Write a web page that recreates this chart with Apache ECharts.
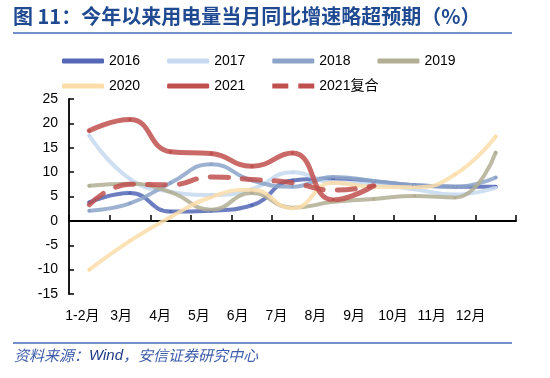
<!DOCTYPE html>
<html><head><meta charset="utf-8">
<script src="https://cdn.jsdelivr.net/npm/echarts@6/dist/echarts.min.js"></script>
<style>html,body{margin:0;padding:0;background:#fff}#c{width:550px;height:378px}</style>
</head><body><div id="c"></div>
<script>
var categories = ['1-2月','3月','4月','5月','6月','7月','8月','9月','10月','11月','12月'];
var s2016 = [3.8, 5.7, 1.9, 2.1, 3.2, 8.3, 8.7, 8.1, 7.3, 7.0, 7.0];
var s2017 = [17.5, 8.6, 6.0, 5.3, 6.5, 10.0, 7.8, 7.5, 6.5, 5.4, 6.8];
var s2018 = [2.1, 3.6, 7.8, 11.6, 8.3, 7.0, 9.0, 8.2, 7.3, 7.0, 8.9];
var s2019 = [7.2, 7.6, 5.9, 2.3, 5.7, 2.7, 3.9, 4.5, 5.1, 4.8, 14.0];
var s2020 = [-10.0, -4.1, 0.8, 4.9, 6.4, 2.6, 7.8, 7.0, 6.9, 9.5, 17.3];
var s2021 = [18.5, 20.8, 14.2, 13.8, 11.2, 13.9, 4.3, 7.2];
var s2021c = [3.3, 7.5, 7.4, 9.0, 8.5, 7.8, 6.3, 7.2];
var yTicks = {min: -15, max: 25, interval: 5};

var FONT = '"Liberation Sans", Arial, "Noto Sans CJK SC", sans-serif';
var chart = echarts.init(document.getElementById('c'));

function mk(name, data, color, width, dashed) {
  return {
    name: name, type: 'line', data: data, smooth: 0.5,
    xAxisIndex: 0, yAxisIndex: 0,
    symbol: 'circle', symbolSize: dashed ? 0 : 3.5, showSymbol: !dashed,
    itemStyle: {color: color, opacity: 1},
    lineStyle: {color: color, width: width, opacity: 0.85,
      type: dashed ? [18, 14] : 'solid', cap: 'round', join: 'round'},
    emphasis: {disabled: true}, z: dashed ? 4 : 3
  };
}
var C = {'2016':'#5467B5','2017':'#C6D9F0','2018':'#8CA4C8','2019':'#B2AE93','2020':'#FCDDAA','2021':'#C0504D'};

var legText = {fontSize: 14, color: '#000', fontFamily: FONT};
chart.setOption({
  animation: false,
  backgroundColor: '#fff',
  legend: [{
    left: 57, top: 49, itemWidth: 42, itemHeight: 5, itemGap: 27,
    textStyle: legText,
    data: [{name:'2016',icon:'roundRect'},{name:'2017',icon:'roundRect'},{name:'2018',icon:'roundRect'},{name:'2019',icon:'roundRect'}]
  },{
    left: 57, top: 74, itemWidth: 42, itemHeight: 5, itemGap: 27,
    textStyle: legText,
    data: [{name:'2020',icon:'roundRect'},{name:'2021',icon:'roundRect'},
      {name:'2021复合',icon:'path://M0,0h16v5h-16z M26,0h16v5h-16z'}]
  }],
  grid: [{left: 69, right: 34, top: 99, bottom: 84},
         {left: 63, right: 60, top: 99, bottom: 84}],
  xAxis: [{
    type: 'category', data: categories, gridIndex: 0, boundaryGap: true,
    axisLine: {onZero: true, lineStyle: {color: '#000', width: 1.8}},
    axisTick: {show: true, inside: true, length: 6, lineStyle: {color: '#000', width: 1.5}},
    axisLabel: {show: false}, splitLine: {show: false}
  },{
    type: 'category', data: categories, gridIndex: 1, position: 'bottom',
    axisLine: {show: false}, axisTick: {show: false}, splitLine: {show: false},
    axisLabel: {show: true, margin: 15, fontSize: 14, color: '#000', fontFamily: FONT, interval: 0}
  }],
  yAxis: [{
    type: 'value', gridIndex: 0, min: yTicks.min, max: yTicks.max, interval: yTicks.interval,
    axisLine: {show: true, lineStyle: {color: '#000', width: 1.8}},
    axisTick: {show: true, inside: true, length: 5, lineStyle: {color: '#000', width: 1.5}},
    axisLabel: {margin: 11, fontSize: 14, color: '#000', fontFamily: FONT},
    splitLine: {show: false}
  },{
    type: 'value', gridIndex: 1, min: yTicks.min, max: yTicks.max, show: false
  }],
  series: [
    mk('2016', s2016, C['2016'], 4),
    mk('2017', s2017, C['2017'], 4),
    mk('2018', s2018, C['2018'], 4),
    mk('2019', s2019, C['2019'], 4),
    mk('2020', s2020, C['2020'], 4),
    mk('2021', s2021, C['2021'], 5),
    mk('2021复合', s2021c, C['2021'], 5, true)
  ],
  graphic: [
    {type: 'text', left: 13, top: 6, style: {text: '图 11：今年以来用电量当月同比增速略超预期（%）',
      font: 'bold 20px "Noto Sans CJK SC", "Liberation Sans", sans-serif', fill: '#1F4A92'}},
    {type: 'rect', shape: {x: 13, y: 32, width: 499, height: 2}, style: {fill: '#7390C8'}},
    {type: 'rect', shape: {x: 13, y: 342, width: 499, height: 2}, style: {fill: '#7390C8'}},
    {type: 'text', left: 14, top: 348, style: {
      text: '{a|资料来源：}{b|Wind}{a|，安信证券研究中心}',
      rich: {
        a: {font: 'italic 15px "Noto Sans CJK SC", sans-serif', fill: '#3D5DAA'},
        b: {font: 'italic 15px "Liberation Sans", Arial, sans-serif', fill: '#1F3A85'}
      }}}
  ]
});
</script></body></html>
